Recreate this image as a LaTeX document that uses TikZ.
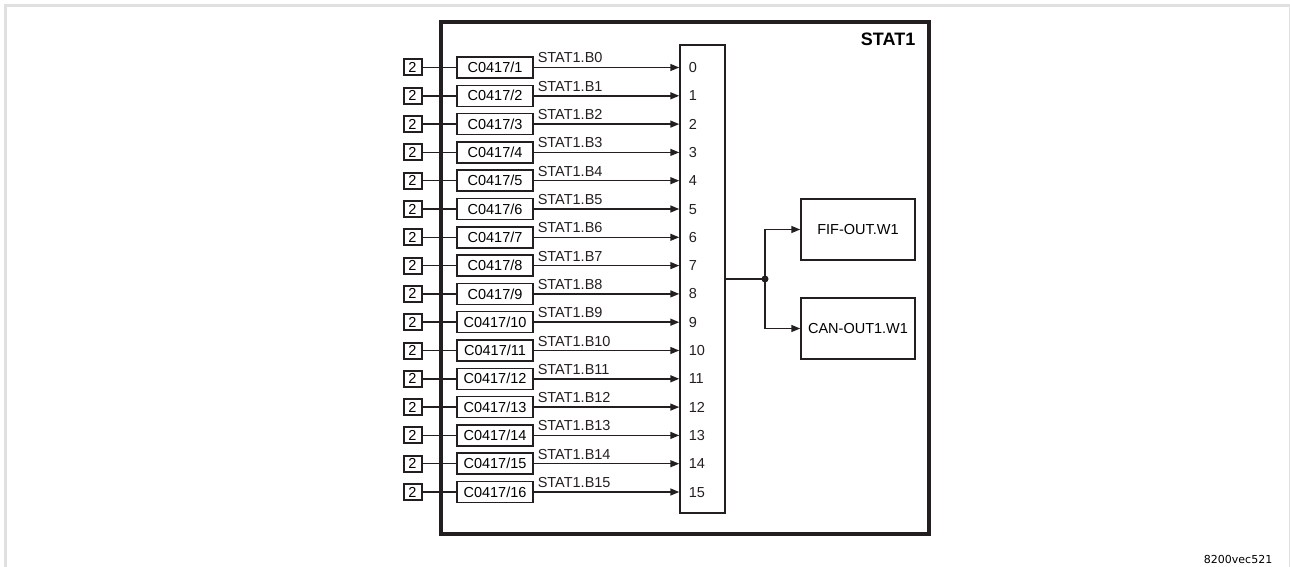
\documentclass[tikz,border=0pt]{standalone}
\usepackage{fontspec}
\setmainfont{Liberation Sans}
\newfontfamily\codefont{DejaVu Sans}
\usetikzlibrary{positioning,arrows.meta,calc}
\definecolor{pageGray}{HTML}{E0E0E0}
\definecolor{lineCol}{HTML}{231F20}

\begin{document}
\begin{tikzpicture}[
    x=1pt, y=-1pt,
    >={Triangle[length=9pt,width=7pt]},
    font=\fontsize{14.5}{16}\selectfont,
    line width=1.5pt, draw=lineCol,
    srcbox/.style={draw=lineCol, line width=2pt, minimum width=18pt,
      minimum height=16pt, inner sep=0pt},
    codebox/.style={draw=lineCol, line width=1.5pt, minimum width=76pt,
      minimum height=21pt, inner sep=0pt},
    outbox/.style={draw=lineCol, line width=1.5pt, minimum width=114pt,
      minimum height=61pt, inner sep=0pt},
    arr/.style={->, line width=1.5pt, draw=lineCol},
    lab/.style={anchor=base west, inner sep=0pt, text=lineCol},
  ]
\useasboundingbox (0,0) rectangle (1290,567);

% page frame
\draw[pageGray, line width=3pt] (5.5,567) -- (5.5,5.5) -- (1290,5.5);
\draw[pageGray, line width=1pt] (1289,5.5) -- (1289,567);

% function block frame
\draw[lineCol, line width=3.5pt] (441,22) rectangle (929,534);
\node[anchor=north east, inner sep=0pt, font=\fontsize{18}{20}\selectfont\bfseries]
  (title) at (916,32) {STAT1};

% bit collector
\node[draw=lineCol, line width=1.5pt, minimum width=45pt, minimum height=468pt,
  inner sep=0pt] (mux) at (702.5,279) {};

% 16 inputs
\foreach \i [evaluate=\i as \ry using 67.5+28.3*\i, evaluate=\i as \n using int(\i+1)] in {0,...,15} {
  \node[srcbox] (two\i) at (412.5,\ry) {2};
  \node[codebox] (reg\i) at (495,\ry) {C0417/\n};
  \draw (two\i) -- (reg\i);
  \coordinate (bit\i) at (reg\i.east -| mux.west);
  \draw[arr] (reg\i.east) -- (bit\i);
  \node[lab] (sig\i) at (537,\ry-4.5) {STAT1.B\i};
  \node[lab] (num\i) at (688,\ry+5) {\i};
}

% outputs
\node[outbox] (fif) at (858,229.5) {FIF-OUT.W1};
\node[outbox] (can) at (858,328.5) {CAN-OUT1.W1};
\coordinate (split) at (765,279);
\draw (mux.east |- split) -- (split);
\fill[lineCol] (split) circle (3.5pt);
\draw[arr] (split) |- (fif.west);
\draw[arr] (split) |- (can.west);

\node[anchor=base east, inner sep=0pt, font=\codefont\fontsize{11}{13}\selectfont]
  (fig) at (1273,563) {8200vec521};

\end{tikzpicture}
\end{document}
